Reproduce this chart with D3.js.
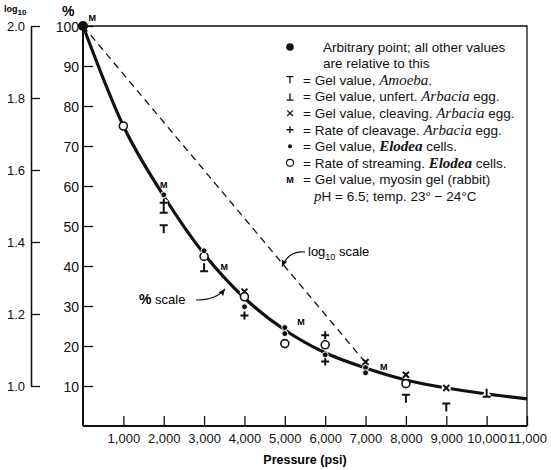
<!DOCTYPE html>
<html>
<head>
<meta charset="utf-8">
<script src="https://cdn.jsdelivr.net/npm/d3@7"></script>
<style>
  body { margin: 0; background: #fff; }
  svg { font-family: "Liberation Sans", Arial, sans-serif; }
  .axis text { font-size: 13px; fill: #111; }
  .axis line, .axis path { stroke: #111; }
  .leg { font-size: 13.5px; fill: #111; }
  .it { font-family: "Liberation Serif", serif; font-style: italic; font-size: 15px; }
</style>
</head>
<body>
<div id="container"></div>
<script>
// chart values
var pressureTicks = [1000, 2000, 3000, 4000, 5000, 6000, 7000, 8000, 9000, 10000, 11000];
var percentTicks = [10, 20, 30, 40, 50, 60, 70, 80, 90, 100];
var logTicks = [1.0, 1.2, 1.4, 1.6, 1.8, 2.0];

// smooth "% scale" curve
var curvePressure = [0, 1000, 2000, 3000, 4000, 5000, 6000, 7000, 8000, 9000, 10000, 11000];
var curvePercent = [100, 75, 57.5, 43, 32, 24, 18.3, 14.5, 11.5, 9.5, 8, 6.8];

// "log10 scale" straight dashed line (log10 units)
var logPressure = [0, 7000];
var logValue = [2.0, 1.065];

// series: [pressure, percent]
var arbitrary = [[0, 100]];
var amoeba = [[2000, 49.2], [8000, 6.8], [9000, 4.6]];
var unfert = [[2000, 54.3], [3000, 39.7], [10000, 8.3]];
var cleaving = [[4000, 33.6], [7000, 16], [8000, 12.8], [9000, 9.5]];
var cleavageRate = [[2000, 55.8], [4000, 27.6], [6000, 22.7], [6000, 16.1]];
var elodeaGel = [[2000, 57.8], [3000, 43.8], [4000, 29.8], [5000, 24.6], [5000, 23.1], [6000, 17.8], [7000, 14.6], [7000, 13.3]];
var streaming = [[1000, 75], [3000, 42.4], [4000, 32.3], [5000, 20.6], [6000, 20.3], [8000, 10.6]];
var myosin = [[230, 102], [2000, 60.3], [3500, 39.8], [5400, 26], [7450, 14.8]];

var svgWidth = 551;
var svgHeight = 470;

var svg = d3.select("#container")
  .append("svg")
  .attr("width", svgWidth)
  .attr("height", svgHeight);

var x = d3.scaleLinear().domain([0, 11000]).range([83, 527]);
var y = d3.scaleLinear().domain([0, 100]).range([426, 26]);
var yLog = d3.scaleLinear().domain([1, 2]).range([386, 26]);

// frame top + right
svg.append("path")
  .attr("d", "M" + x(0) + "," + y(100) + "H" + x(11000) + "V" + y(0))
  .attr("fill", "none")
  .attr("stroke", "#111")
  .attr("stroke-width", 1.3);

// percent axis
var leftAxis = d3.axisLeft(y).tickValues(percentTicks).tickSize(-10).tickSizeOuter(0).tickPadding(4);
svg.append("g")
  .attr("class", "axis")
  .attr("transform", "translate(" + x(0) + ",0)")
  .call(leftAxis)
  .call(g => g.select(".domain").attr("d", "M0," + y(0) + "V" + y(100)).attr("stroke-width", 2))
  .call(g => g.selectAll(".tick line").attr("stroke-width", 1.3))
  .call(g => g.selectAll(".tick text").style("font-size", "14px").attr("dy", "0.4em"));

// pressure axis
var bottomAxis = d3.axisBottom(x).tickValues(pressureTicks).tickSize(-10).tickSizeOuter(0)
  .tickPadding(8).tickFormat(d3.format(","));
svg.append("g")
  .attr("class", "axis")
  .attr("transform", "translate(0," + y(0) + ")")
  .call(bottomAxis)
  .call(g => g.select(".domain").attr("d", "M" + x(0) + ",0H" + x(11000)).attr("stroke-width", 2))
  .call(g => g.selectAll(".tick line").attr("stroke-width", 1.3));

// log10 axis
var logAxis = d3.axisLeft(yLog).tickValues(logTicks).tickSize(-9).tickSizeOuter(0)
  .tickPadding(6).tickFormat(d3.format(".1f"));
svg.append("g")
  .attr("class", "axis")
  .attr("transform", "translate(31,0)")
  .call(logAxis)
  .call(g => g.select(".domain").attr("stroke-width", 1.6))
  .call(g => g.selectAll(".tick line").attr("stroke-width", 1.3))
  .call(g => g.selectAll(".tick text").attr("dy", "0.35em"));

// axis titles
svg.append("text")
  .attr("x", 62).attr("y", 16)
  .style("font-size", "14px").style("font-weight", "bold")
  .text("%");
var lt = svg.append("text").attr("x", 4).attr("y", 12).style("font-size", "9px").style("font-weight", "bold");
lt.append("tspan").text("log");
lt.append("tspan").attr("dy", 3).style("font-size", "8px").text("10");

svg.append("text")
  .attr("x", x(5500)).attr("y", 464)
  .attr("text-anchor", "middle")
  .style("font-size", "12.5px").style("font-weight", "bold")
  .text("Pressure (psi)");

// dashed log10 line
svg.append("path")
  .datum(logPressure.map((p, i) => [p, logValue[i]]))
  .attr("d", d3.line().x(d => x(d[0])).y(d => yLog(d[1])))
  .attr("fill", "none")
  .attr("stroke", "#111")
  .attr("stroke-width", 1.3)
  .attr("stroke-dasharray", "7,5");

// solid % curve
svg.append("path")
  .datum(curvePressure.map((p, i) => [p, curvePercent[i]]))
  .attr("d", d3.line().curve(d3.curveMonotoneX).x(d => x(d[0])).y(d => y(d[1])))
  .attr("fill", "none")
  .attr("stroke", "#111")
  .attr("stroke-width", 3.2);

// marker shapes
function tee(s) { return "M" + (-s) + "," + (-s) + "H" + s + "M0," + (-s) + "V" + s; }
function upTee(s) { return "M" + (-s) + "," + s + "H" + s + "M0," + s + "V" + (-s); }
function cross(s) { return "M" + (-s) + "," + (-s) + "L" + s + "," + s + "M" + (-s) + "," + s + "L" + s + "," + (-s); }
function plus(s) { return "M" + (-s) + ",0H" + s + "M0," + (-s) + "V" + s; }

function drawPaths(g, data, shape, halo) {
  [["#fff", halo], ["#111", 2]].forEach(function(st) {
    g.selectAll(null)
      .data(data)
      .enter()
      .append("path")
      .attr("transform", d => "translate(" + x(d[0]) + "," + y(d[1]) + ")")
      .attr("d", shape)
      .attr("fill", "none")
      .attr("stroke", st[0])
      .attr("stroke-width", st[1]);
  });
}

var marks = svg.append("g");
drawPaths(marks, amoeba, tee(4), 5.5);
drawPaths(marks, unfert, upTee(4), 5.5);
drawPaths(marks, cleaving, cross(3), 5.5);
drawPaths(marks, cleavageRate, plus(4), 5.5);

marks.selectAll(null)
  .data(streaming)
  .enter()
  .append("circle")
  .attr("cx", d => x(d[0]))
  .attr("cy", d => y(d[1]))
  .attr("r", 4)
  .attr("fill", "#fff")
  .attr("stroke", "#111")
  .attr("stroke-width", 1.6);

marks.selectAll(null)
  .data(elodeaGel)
  .enter()
  .append("circle")
  .attr("cx", d => x(d[0]))
  .attr("cy", d => y(d[1]))
  .attr("r", 3)
  .attr("fill", "#111")
  .attr("stroke", "#fff")
  .attr("stroke-width", 1);

marks.selectAll(null)
  .data(arbitrary)
  .enter()
  .append("circle")
  .attr("cx", d => x(d[0]))
  .attr("cy", d => y(d[1]))
  .attr("r", 5)
  .attr("fill", "#111");

marks.selectAll(null)
  .data(myosin)
  .enter()
  .append("text")
  .attr("x", d => x(d[0]))
  .attr("y", d => y(d[1]))
  .attr("dy", "0.35em")
  .attr("text-anchor", "middle")
  .style("font-size", "9px")
  .style("font-weight", "bold")
  .text("M");

// callout labels
var pl = svg.append("text").attr("x", 139).attr("y", 304).style("font-size", "13px");
pl.append("tspan").style("font-weight", "bold").style("font-size", "14px").text("%");
pl.append("tspan").text(" scale");

var ll = svg.append("text").attr("x", 308).attr("y", 256).style("font-size", "13px");
ll.append("tspan").text("log");
ll.append("tspan").attr("dy", 4).style("font-size", "9px").text("10");
ll.append("tspan").attr("dy", -4).text(" scale");

var arrows = [
  { from: [x(2800), y(31.5)], ctrl: [x(3300), y(31.5)], to: [x(3520), y(34.3)] },
  { from: [x(5500), y(43.5)], ctrl: [x(5100), y(44)], to: [x(4930), y(39.8)] }
];
arrows.forEach(function(a) {
  svg.append("path")
    .attr("d", "M" + a.from + "Q" + a.ctrl + " " + a.to)
    .attr("fill", "none")
    .attr("stroke", "#111")
    .attr("stroke-width", 1.2);
  var ang = Math.atan2(a.to[1] - a.ctrl[1], a.to[0] - a.ctrl[0]) * 180 / Math.PI;
  svg.append("path")
    .attr("transform", "translate(" + a.to + ") rotate(" + ang + ")")
    .attr("d", "M0,0L-7,-3L-6,0L-7,3Z")
    .attr("fill", "#111");
});

// legend
var legendRows = [
  { sym: "big", parts: [["Arbitrary point; all other values", ""]] },
  { sym: "", parts: [["are relative to this", ""]] },
  { sym: "tee", parts: [["= Gel value, ", ""], ["Amoeba", "it"], [".", ""]] },
  { sym: "upTee", parts: [["= Gel value, unfert. ", ""], ["Arbacia", "it"], [" egg.", ""]] },
  { sym: "cross", parts: [["= Gel value, cleaving. ", ""], ["Arbacia", "it"], [" egg.", ""]] },
  { sym: "plus", parts: [["= Rate of cleavage. ", ""], ["Arbacia", "it"], [" egg.", ""]] },
  { sym: "dot", parts: [["= Gel value, ", ""], ["Elodea", "itb"], [" cells.", ""]] },
  { sym: "open", parts: [["= Rate of streaming. ", ""], ["Elodea", "itb"], [" cells.", ""]] },
  { sym: "M", parts: [["= Gel value, myosin gel (rabbit)", ""]] },
  { sym: "", parts: [["p", "it"], ["H = 6.5; temp. 23° \u2212 24°C", ""]] }
];

var legend = svg.append("g");
legendRows.forEach(function(row, i) {
  var cy = 47 + i * 16.55;
  var tx = 303;
  if (i < 2) tx = 323;
  if (i === 9) tx = 314;
  var t = legend.append("text").attr("class", "leg").attr("x", tx).attr("y", cy + 4.8);
  row.parts.forEach(function(p) {
    var ts = t.append("tspan").text(p[0]);
    if (p[1] === "it") ts.attr("class", "it");
    if (p[1] === "itb") ts.attr("class", "it").style("font-weight", "bold");
  });
  var sx = 290;
  var g = legend.append("g").attr("transform", "translate(" + sx + "," + cy + ")");
  if (row.sym === "big") g.append("circle").attr("r", 3.8).attr("fill", "#111");
  if (row.sym === "tee") g.append("path").attr("d", tee(3.5)).attr("stroke", "#111").attr("stroke-width", 1.3).attr("fill", "none");
  if (row.sym === "upTee") g.append("path").attr("d", upTee(3.5)).attr("stroke", "#111").attr("stroke-width", 1.3).attr("fill", "none");
  if (row.sym === "cross") g.append("path").attr("d", cross(2.8)).attr("stroke", "#111").attr("stroke-width", 1.2).attr("fill", "none");
  if (row.sym === "plus") g.append("path").attr("d", plus(3.5)).attr("stroke", "#111").attr("stroke-width", 1.3).attr("fill", "none");
  if (row.sym === "dot") g.append("circle").attr("r", 2).attr("fill", "#111");
  if (row.sym === "open") g.append("circle").attr("r", 3.5).attr("fill", "none").attr("stroke", "#111").attr("stroke-width", 1.1);
  if (row.sym === "M") g.append("text").attr("text-anchor", "middle").attr("dy", "0.35em").style("font-size", "9px").style("font-weight", "bold").text("M");
});
</script>
</body>
</html>
